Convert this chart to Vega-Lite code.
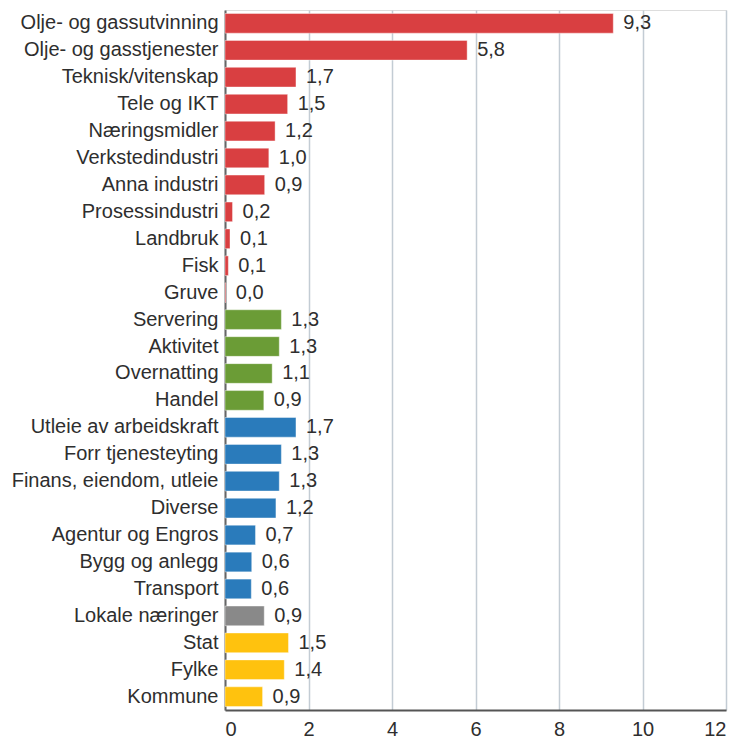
{
  "$schema": "https://vega.github.io/schema/vega-lite/v6.json",
  "width": 501,
  "height": 700,
  "autosize": {"type": "none"},
  "padding": {"left": 225, "top": 10, "right": 12, "bottom": 30},
  "background": "white",
  "data": {
    "values": [
      {"naering": "Olje- og gassutvinning", "verdi": 9.3, "label": "9,3", "gruppe": "A"},
      {"naering": "Olje- og gasstjenester", "verdi": 5.8, "label": "5,8", "gruppe": "A"},
      {"naering": "Teknisk/vitenskap", "verdi": 1.7, "label": "1,7", "gruppe": "A"},
      {"naering": "Tele og IKT", "verdi": 1.5, "label": "1,5", "gruppe": "A"},
      {"naering": "Næringsmidler", "verdi": 1.2, "label": "1,2", "gruppe": "A"},
      {"naering": "Verkstedindustri", "verdi": 1.05, "label": "1,0", "gruppe": "A"},
      {"naering": "Anna industri", "verdi": 0.95, "label": "0,9", "gruppe": "A"},
      {"naering": "Prosessindustri", "verdi": 0.18, "label": "0,2", "gruppe": "A"},
      {"naering": "Landbruk", "verdi": 0.12, "label": "0,1", "gruppe": "A"},
      {"naering": "Fisk", "verdi": 0.08, "label": "0,1", "gruppe": "A"},
      {"naering": "Gruve", "verdi": 0.02, "label": "0,0", "gruppe": "A"},
      {"naering": "Servering", "verdi": 1.35, "label": "1,3", "gruppe": "B"},
      {"naering": "Aktivitet", "verdi": 1.3, "label": "1,3", "gruppe": "B"},
      {"naering": "Overnatting", "verdi": 1.13, "label": "1,1", "gruppe": "B"},
      {"naering": "Handel", "verdi": 0.93, "label": "0,9", "gruppe": "B"},
      {"naering": "Utleie av arbeidskraft", "verdi": 1.7, "label": "1,7", "gruppe": "C"},
      {"naering": "Forr tjenesteyting", "verdi": 1.35, "label": "1,3", "gruppe": "C"},
      {"naering": "Finans, eiendom, utleie", "verdi": 1.3, "label": "1,3", "gruppe": "C"},
      {"naering": "Diverse", "verdi": 1.22, "label": "1,2", "gruppe": "C"},
      {"naering": "Agentur og Engros", "verdi": 0.73, "label": "0,7", "gruppe": "C"},
      {"naering": "Bygg og anlegg", "verdi": 0.64, "label": "0,6", "gruppe": "C"},
      {"naering": "Transport", "verdi": 0.63, "label": "0,6", "gruppe": "C"},
      {"naering": "Lokale næringer", "verdi": 0.94, "label": "0,9", "gruppe": "D"},
      {"naering": "Stat", "verdi": 1.52, "label": "1,5", "gruppe": "E"},
      {"naering": "Fylke", "verdi": 1.42, "label": "1,4", "gruppe": "E"},
      {"naering": "Kommune", "verdi": 0.9, "label": "0,9", "gruppe": "E"}
    ]
  },
  "encoding": {
    "y": {
      "field": "naering",
      "type": "nominal",
      "sort": null,
      "scale": {"paddingInner": 0.27, "paddingOuter": 0.13},
      "axis": {
        "title": null,
        "ticks": false,
        "labelFontSize": 20,
        "labelFont": "Liberation Sans",
        "labelColor": "#2e2e2e",
        "labelPadding": 7,
        "labelLimit": 400,
        "domainColor": "#666666",
        "domainWidth": 2,
        "grid": false
      }
    },
    "x": {
      "field": "verdi",
      "type": "quantitative",
      "scale": {"domain": [0, 12], "nice": false},
      "axis": {
        "title": null,
        "values": [0, 2, 4, 6, 8, 10, 12],
        "ticks": false,
        "labelFontSize": 20,
        "labelFont": "Liberation Sans",
        "labelColor": "#2e2e2e",
        "labelPadding": 9,
        "domainColor": "#555555",
        "domainWidth": 2,
        "grid": true,
        "gridColor": "#c3ccd4",
        "gridWidth": 1.5
      }
    }
  },
  "layer": [
    {
      "mark": {"type": "bar", "stroke": "#ffffff", "strokeOpacity": 0.4, "strokeWidth": 1},
      "encoding": {
        "color": {
          "field": "gruppe",
          "type": "nominal",
          "scale": {"domain": ["A", "B", "C", "D", "E"], "range": ["#d93f41", "#6b9c36", "#2a7bbb", "#898989", "#ffc20e"]},
          "legend": null
        }
      }
    },
    {
      "mark": {"type": "text", "align": "left", "baseline": "middle", "dx": 10, "fontSize": 20, "font": "Liberation Sans", "color": "#2e2e2e"},
      "encoding": {"text": {"field": "label"}}
    }
  ]
}
